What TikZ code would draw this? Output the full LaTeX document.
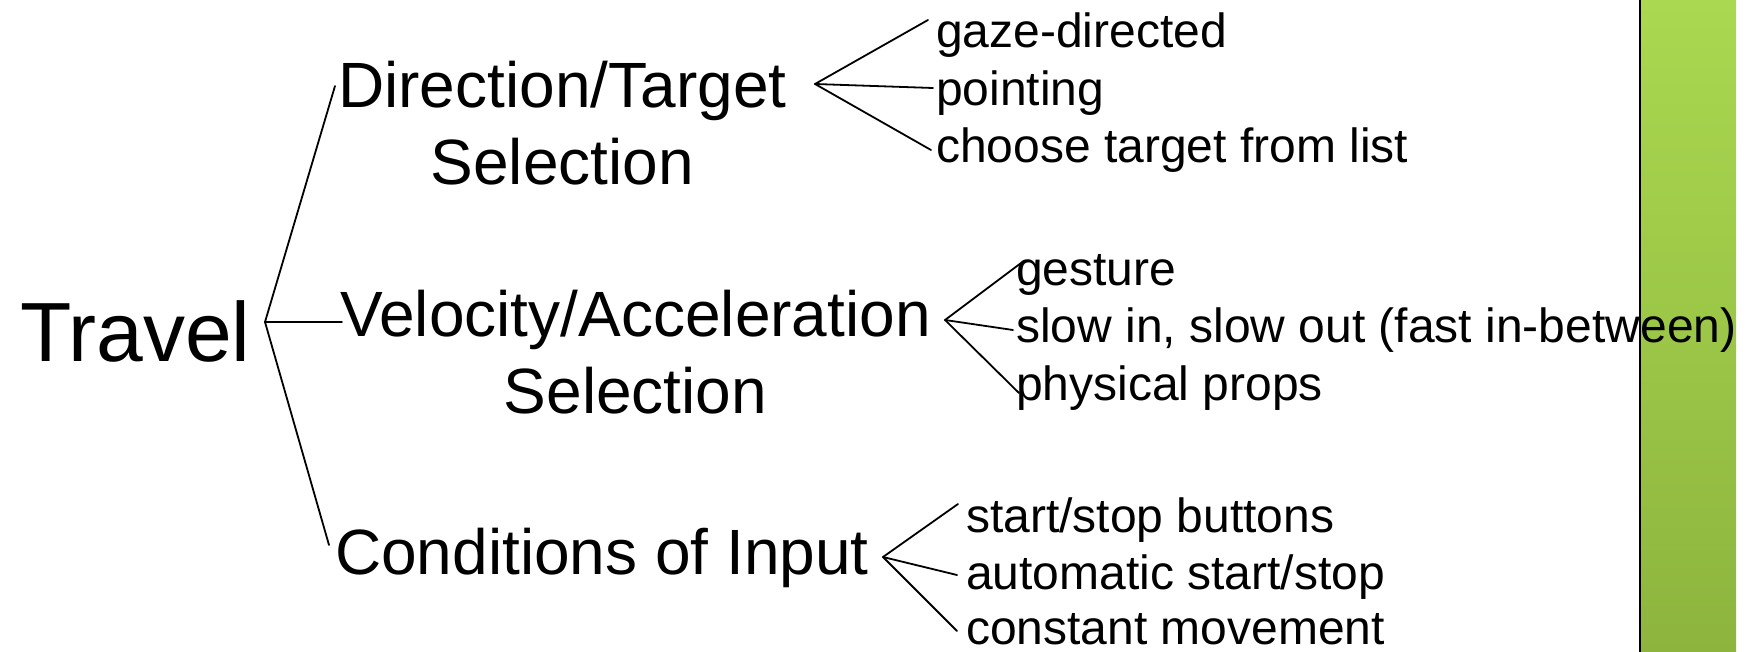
\documentclass[tikz,border=0pt]{standalone}
\usepackage{fontspec}
\setmainfont{Liberation Sans}
\definecolor{bartop}{RGB}{170,216,80}
\definecolor{barbot}{RGB}{141,181,62}
\begin{document}
\begin{tikzpicture}[x=1pt,y=-1pt,
  conn/.style={line width=1.8pt, line cap=round},
  lbl/.style={inner sep=0pt, anchor=base west},
  bigtxt/.style={lbl, font=\fontsize{84}{100}\selectfont},
  midtxt/.style={lbl, font=\fontsize{64}{77}\selectfont},
  smalltxt/.style={lbl, font=\fontsize{48}{57}\selectfont}]
\useasboundingbox (0,0) rectangle (1754,652);
% green bar
\shade[top color=bartop, bottom color=barbot] (1640,0) rectangle (1736,652);
\draw[line width=1.5pt] (1640,0) -- (1640,652);
% root
\node[bigtxt] (trv) at (20,362) {Travel};
% main branches
\node[midtxt] (dts) at (338,108) {\begin{tabular}[t]{@{}c@{}}Direction/Target\\Selection\end{tabular}};
\node[midtxt] (vas) at (340,337) {\begin{tabular}[t]{@{}c@{}}Velocity/Acceleration\\Selection\end{tabular}};
\node[midtxt] (coi) at (335,574) {Conditions of Input};
% leaves
\node[smalltxt] (g1a) at (936,48) {gaze-directed};
\node[smalltxt] (g1b) at (936,106) {pointing};
\node[smalltxt] (g1c) at (936,163) {choose target from list};
\node[smalltxt] (g2a) at (1016,286) {gesture};
\node[smalltxt] (g2b) at (1016,343) {slow in, slow out (fast in-between)};
\node[smalltxt] (g2c) at (1016,400) {physical props};
\node[smalltxt] (g3a) at (966,532) {start/stop buttons};
\node[smalltxt] (g3b) at (966,589) {automatic start/stop};
\node[smalltxt] (g3c) at (966,644) {constant movement};
% connector points
\coordinate (trv-out) at (265,322);
\coordinate (dts-in) at (335,86);
\coordinate (vas-in) at (342,322);
\coordinate (coi-in) at (329,545);
\coordinate (dts-out) at (815,84);
\coordinate (g1a-in) at (928,20);
\coordinate (g1b-in) at (933,88);
\coordinate (g1c-in) at (931,150);
\coordinate (vas-out) at (945,320);
\coordinate (g2a-in) at (1021,263);
\coordinate (g2b-in) at (1013,330);
\coordinate (g2c-in) at (1019,393);
\coordinate (coi-out) at (883,557);
\coordinate (g3a-in) at (958,504);
\coordinate (g3b-in) at (957,575);
\coordinate (g3c-in) at (957,631);
% connectors
\draw[conn] (trv-out) -- (dts-in);
\draw[conn] (trv-out) -- (vas-in);
\draw[conn] (trv-out) -- (coi-in);
\draw[conn] (dts-out) -- (g1a-in);
\draw[conn] (dts-out) -- (g1b-in);
\draw[conn] (dts-out) -- (g1c-in);
\draw[conn] (vas-out) -- (g2a-in);
\draw[conn] (vas-out) -- (g2b-in);
\draw[conn] (vas-out) -- (g2c-in);
\draw[conn] (coi-out) -- (g3a-in);
\draw[conn] (coi-out) -- (g3b-in);
\draw[conn] (coi-out) -- (g3c-in);
\end{tikzpicture}
\end{document}
